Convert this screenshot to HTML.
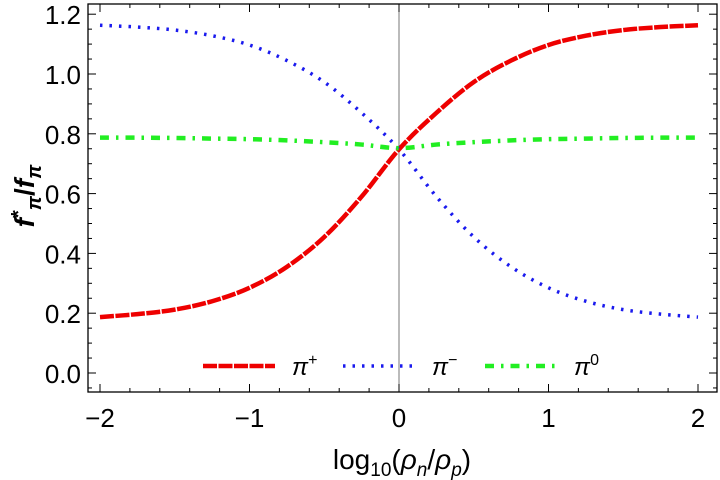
<!DOCTYPE html>
<html><head><meta charset="utf-8"><style>
body{margin:0;background:#fff}
svg{display:block;font-family:"Liberation Sans",sans-serif}
</style></head><body>
<svg id="c" width="720" height="480">
<g id="frame"></g>
<g id="series"></g>
<g id="legend"></g>
<text x="402" y="469" font-size="28" text-anchor="middle">log<tspan font-size="19" dy="7">10</tspan><tspan dy="-7">(</tspan><tspan font-style="italic">ρ</tspan><tspan font-size="19" dy="7" font-style="italic">n</tspan><tspan dy="-7">/</tspan><tspan font-style="italic">ρ</tspan><tspan font-size="19" dy="7" font-style="italic">p</tspan><tspan dy="-7">)</tspan></text>
<text transform="translate(34,196) rotate(-90)" font-size="28" font-weight="bold" text-anchor="middle"><tspan font-style="italic">f</tspan><tspan font-size="20" dy="-9">*</tspan><tspan font-size="20" dy="16" font-style="italic">π</tspan><tspan dy="-7">/</tspan><tspan font-style="italic">f</tspan><tspan font-size="20" dy="7" font-style="italic">π</tspan></text>
</svg>
<script>
const xs=[-2,-1.75,-1.5,-1.25,-1,-0.75,-0.5,-0.25,0,0.25,0.5,0.75,1,1.25,1.5,1.75,2];
const piPlus=[0.187,0.197,0.212,0.24,0.285,0.355,0.455,0.59,0.748,0.87,0.973,1.045,1.097,1.128,1.147,1.157,1.163];
const piMinus=[1.163,1.157,1.147,1.128,1.097,1.045,0.973,0.87,0.748,0.59,0.455,0.355,0.285,0.24,0.212,0.197,0.187];
const piZero=[0.787,0.787,0.786,0.784,0.782,0.778,0.772,0.764,0.752,0.764,0.772,0.778,0.782,0.784,0.786,0.787,0.787];
const xTicks=[-2,-1,0,1,2];
const yTicks=[0,0.2,0.4,0.6,0.8,1.0,1.2];
const NS="http://www.w3.org/2000/svg";
const X=v=>399+v*149.5, Y=v=>373-v*299;
const L=88,R=717,T=4,B=392;
function mk(p,tag,a){const e=document.createElementNS(NS,tag);for(const k in a)e.setAttribute(k,a[k]);p.appendChild(e);return e;}
const fr=document.getElementById('frame');
const box=mk(fr,'rect',{x:L,y:T,width:R-L,height:B-T,fill:'none',stroke:'#000','stroke-width':1.3});


const zl=mk(fr,'line',{x1:X(0),x2:X(0),y1:T,y2:B,stroke:'#777','stroke-width':1});


for(let i=-10;i<=10;i++){const v=i*0.2,x=X(v),maj=i%5===0,len=maj?8:4;
 mk(fr,'line',{x1:x,x2:x,y1:B,y2:B-len,stroke:'#000','stroke-width':1});
 mk(fr,'line',{x1:x,x2:x,y1:T,y2:T+len,stroke:'#000','stroke-width':1});}
for(let i=-1;i<=25;i++){const v=i*0.05,y=Y(v);if(y<T||y>B)continue;const maj=i%4===0,len=maj?8:4;
 mk(fr,'line',{x1:L,x2:L+len,y1:y,y2:y,stroke:'#000','stroke-width':1});
 mk(fr,'line',{x1:R,x2:R-len,y1:y,y2:y,stroke:'#000','stroke-width':1});}
xTicks.forEach(v=>{const t=mk(fr,'text',{x:X(v),y:427,'font-size':26,'text-anchor':'middle'});t.textContent=v<0?'\u2212'+(-v):String(v);
 
 });
yTicks.forEach(v=>{const t=mk(fr,'text',{x:81,y:Y(v)+10,'font-size':26,'text-anchor':'end'});t.textContent=v.toFixed(1);
 
 });
const sg=document.getElementById('series');
function smooth(ys){const p=xs.map((x,i)=>[X(x),Y(ys[i])]);let d='M'+p[0];for(let i=0;i<p.length-1;i++){const a=p[i-1]||p[i],b=p[i],c=p[i+1],e=p[i+2]||c;d+='C'+(b[0]+(c[0]-a[0])/6)+','+(b[1]+(c[1]-a[1])/6)+' '+(c[0]-(e[0]-b[0])/6)+','+(c[1]-(e[1]-b[1])/6)+' '+c;}return d;}
const styles=[
 {d:piPlus,c:'#ee0000',w:4.5,da:'14,1.5',n:'pi-plus-line',lab:'+',lx:203},
 {d:piMinus,c:'#1a1aee',w:3.5,da:'2.5,7',n:'pi-minus-line',lab:'\u2212',lx:343},
 {d:piZero,c:'#22ee22',w:4.5,da:'9,7,2.5,7',n:'pi-zero-line',lab:'0',lx:485}];
const lg=document.getElementById('legend');
styles.forEach(s=>{const p=mk(sg,'path',{d:smooth(s.d),fill:'none',stroke:s.c,'stroke-width':s.w,'stroke-dasharray':s.da});
 
 
 const g=mk(lg,'g',{});
 
 
 mk(g,'line',{x1:s.lx,x2:s.lx+72,y1:366,y2:366,stroke:s.c,'stroke-width':s.w,'stroke-dasharray':s.da});
 const t=mk(g,'text',{x:s.lx+89,y:375,'font-size':24});
 t.innerHTML='<tspan font-style="italic">π</tspan><tspan font-size="16" dy="-10">'+s.lab+'</tspan>';});
</script>
</body></html>
